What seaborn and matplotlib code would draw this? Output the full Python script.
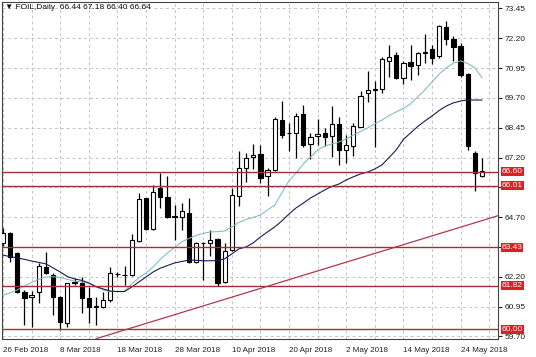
import matplotlib
matplotlib.use("Agg")
import matplotlib.pyplot as plt
import numpy as np
import pandas as pd
import seaborn as sns

# daily OHLC, one entry per bar
opens = [63.62, 64.02, 63.20, 61.58, 61.35, 61.58, 62.62, 62.28, 61.37, 60.25,
         61.94, 61.95, 61.30, 60.95, 60.92, 61.23, 62.30, 62.26, 62.28, 63.71,
         65.49, 64.19, 65.91, 65.56, 64.72, 64.69, 64.89, 62.83, 63.60, 63.63,
         63.77, 61.99, 63.32, 65.59, 66.75, 67.21, 67.35, 66.43, 66.68, 68.77,
         68.22, 68.22, 69.01, 67.77, 68.10, 68.24, 68.10, 68.61, 67.52, 67.70,
         68.49, 69.92, 70.07, 70.06, 71.26, 71.50, 70.52, 71.22, 71.08, 71.60,
         71.74, 71.46, 72.69, 72.16, 71.89, 70.70, 67.38, 66.44]
closes = [64.04, 63.04, 61.58, 61.30, 61.44, 62.65, 62.37, 61.37, 60.32, 61.93,
          62.00, 61.30, 60.92, 60.96, 61.23, 62.35, 62.32, 62.28, 63.74, 65.45,
          64.19, 65.77, 65.53, 64.69, 64.73, 64.97, 62.83, 63.60, 63.62, 63.74,
          61.95, 63.29, 65.63, 66.75, 67.17, 67.31, 66.33, 66.68, 68.80, 68.15,
          68.23, 68.94, 67.73, 68.05, 68.19, 68.07, 68.61, 67.52, 67.73, 68.52,
          69.78, 70.03, 70.03, 71.32, 71.43, 70.55, 71.18, 71.04, 71.60, 71.63,
          71.36, 72.72, 72.16, 71.85, 70.66, 67.68, 66.54, 66.64]
highs = [64.25, 64.09, 63.24, 61.65, 61.60, 62.78, 63.25, 62.35, 61.40, 61.95,
         62.15, 62.20, 61.79, 61.37, 61.58, 62.62, 62.41, 62.65, 64.00, 65.73,
         65.52, 66.05, 66.54, 66.43, 65.21, 65.28, 65.49, 63.67, 63.67, 64.16,
         63.81, 63.60, 65.91, 67.49, 67.38, 67.77, 67.73, 66.75, 68.91, 69.58,
         68.66, 69.08, 69.40, 68.22, 68.82, 68.43, 69.36, 68.91, 68.15, 68.64,
         70.00, 70.84, 70.41, 71.40, 71.92, 71.64, 71.26, 71.92, 71.64, 72.37,
         71.92, 72.76, 72.94, 72.30, 72.02, 70.76, 67.49, 67.18]
lows = [63.49, 62.83, 61.52, 60.18, 60.10, 61.10, 62.32, 60.60, 59.97, 60.08,
        61.86, 60.67, 60.25, 60.18, 60.88, 61.16, 62.20, 61.86, 62.23, 63.67,
        64.16, 64.16, 65.07, 64.65, 63.74, 64.16, 62.79, 62.79, 62.07, 63.07,
        61.81, 61.95, 63.28, 65.17, 66.18, 66.71, 66.15, 65.59, 66.65, 68.01,
        67.49, 67.17, 67.65, 67.13, 67.73, 67.68, 67.24, 66.89, 66.96, 67.27,
        68.47, 69.54, 67.65, 69.89, 70.59, 70.48, 70.28, 70.45, 70.66, 71.15,
        71.12, 71.36, 71.92, 71.26, 70.57, 67.52, 65.81, 66.40]

# moving averages as drawn on the chart
ma_fast = [61.42, 61.52, 61.65, 61.81, 61.96, 62.09, 62.19, 62.20, 62.17, 62.09,
           62.02, 61.98, 61.94, 61.77, 61.65, 61.58, 61.58, 61.60, 61.90, 62.15,
           62.36, 62.61, 62.93, 63.20, 63.43, 63.66, 63.81, 63.93, 64.02, 64.08,
           64.09, 64.12, 64.29, 64.48, 64.60, 64.69, 64.79, 65.00, 65.21, 65.71,
           66.22, 66.55, 66.93, 67.22, 67.52, 67.68, 67.77, 67.85, 67.98, 68.15,
           68.29, 68.44, 68.61, 68.77, 68.96, 69.11, 69.26, 69.45, 69.74, 70.03,
           70.37, 70.70, 70.96, 71.16, 71.25, 71.14, 70.96, 70.54]
ma_slow = [63.11, 63.04, 62.99, 62.93, 62.86, 62.80, 62.74, 62.57, 62.40, 62.21,
           62.11, 62.05, 61.94, 61.79, 61.69, 61.60, 61.58, 61.58, 61.77, 61.98,
           62.19, 62.40, 62.56, 62.67, 62.78, 62.84, 62.90, 62.89, 62.87, 62.87,
           62.88, 62.95, 63.16, 63.37, 63.45, 63.62, 63.87, 64.08, 64.29, 64.54,
           64.83, 65.09, 65.29, 65.50, 65.67, 65.84, 65.99, 66.09, 66.26, 66.39,
           66.51, 66.59, 66.72, 66.89, 67.20, 67.52, 67.96, 68.23, 68.50, 68.73,
           68.94, 69.17, 69.36, 69.49, 69.57, 69.61, 69.61, 69.61]

date_labels = ['26 Feb 2018', '8 Mar 2018', '18 Mar 2018', '28 Mar 2018', '10 Apr 2018',
               '20 Apr 2018', '2 May 2018', '14 May 2018', '24 May 2018']
levels = [66.60, 66.01, 63.43, 61.82, 60.00]
level_labels = ['66.60', '66.01', '63.43', '61.82', '60.00']
trend_x = [13, 70]
trend_y = [59.60, 64.83]
price_ticks = [59.70, 60.95, 62.20, 63.45, 64.70, 65.95, 67.20, 68.45, 69.70, 70.95, 72.20, 73.45]
price_tick_labels = ['59.70', '60.95', '62.20', '', '64.70', '', '67.20', '68.45', '69.70',
                     '70.95', '72.20', '73.45']
header = '\u25bc FOIL,Daily  66.44 67.18 66.40 66.64'

sns.set_style("white")
plt.rcParams['font.family'] = ['Liberation Sans', 'DejaVu Sans']

df = pd.DataFrame({'bar': np.arange(len(opens)), 'open': opens, 'high': highs,
                   'low': lows, 'close': closes, 'fast': ma_fast, 'slow': ma_slow})
up = df['close'] >= df['open']

fig = plt.figure(figsize=(5.36, 3.57), dpi=100)
fig.patch.set_facecolor('white')
ax = fig.add_axes([2/536, 18/357, 496/536, 337/357])

# candles
ax.vlines(df['bar'], df['low'], df['high'], color='black', lw=0.9, zorder=2)
ax.bar(df['bar'], (df['close'] - df['open']).abs(), bottom=df[['open', 'close']].min(axis=1),
       width=0.6, color=np.where(up, 'white', 'black'), edgecolor='black', linewidth=0.8, zorder=3)

# moving averages
sns.lineplot(data=df, x='bar', y='fast', color='#7dbcbc', lw=0.75, ax=ax, zorder=4)
sns.lineplot(data=df, x='bar', y='slow', color='#1c1c55', lw=0.8, ax=ax, zorder=4)

# support / resistance and trendline
for lv, lab in zip(levels, level_labels):
    ax.axhline(lv, color='#a32f38', lw=1.0, zorder=4)
    ax.annotate(lab, xy=(1, lv), xycoords=('axes fraction', 'data'), xytext=(2.6, 0),
                textcoords='offset points', ha='left', va='center', fontsize=6, color='white',
                annotation_clip=False, zorder=6,
                bbox=dict(boxstyle='square,pad=0.12', fc='#dd1f26', ec='none'))
ax.plot(trend_x, trend_y, color='#b03a48', lw=0.9, zorder=4)

ax.set_xlim(-0.14, 69.23)
ax.set_ylim(59.59, 73.72)

ax.set_xticks(range(0, 68, 8))
ax.set_xticklabels(date_labels, ha='left')
ax.set_xticks(range(4, 70, 8), minor=True)
ax.yaxis.tick_right()
ax.set_yticks(price_ticks)
ax.set_yticklabels(price_tick_labels)
ax.grid(which='both', axis='both', ls=(0, (3, 3)), color='#c4c4c4', lw=0.7)
ax.set_axisbelow(True)
ax.tick_params(axis='x', which='major', length=4, width=0.8, colors='#222222', labelsize=5.8, pad=1.5)
ax.tick_params(axis='x', which='minor', length=0)
ax.tick_params(axis='y', length=3, width=0.8, colors='#222222', labelsize=6, pad=1.5)
ax.set_xlabel('')
ax.set_ylabel('')
for s in ax.spines.values():
    s.set_visible(True)
    s.set_color('#444444')
    s.set_linewidth(0.8)

ax.text(0.006, 0.995, header, transform=ax.transAxes, ha='left', va='top', fontsize=6, color='#111111')

fig.savefig('out.png', dpi=100, facecolor='white')
